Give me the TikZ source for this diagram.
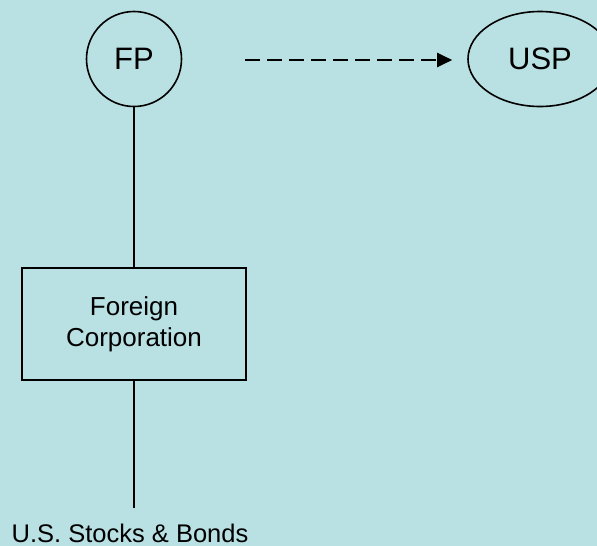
\documentclass[tikz,border=0pt]{standalone}
\usepackage{fontspec}
\setmainfont{Liberation Sans}
\usetikzlibrary{shapes.geometric,arrows.meta}
\definecolor{bgblue}{RGB}{185,224,227}
\tikzset{
  party/.style={draw=black, line width=1.6pt, inner sep=0pt, font=\fontsize{31}{37}\selectfont},
  entity/.style={draw=black, line width=2.2pt, rectangle, minimum width=224pt, minimum height=112pt,
    align=center, font=\fontsize{26}{31}\selectfont},
  link/.style={draw=black, line width=2.2pt},
  transfer/.style={draw=black, line width=2pt, dash pattern=on 15pt off 7pt,
    -{Triangle[length=15pt,width=14pt]}, shorten >=15pt},
  label/.style={font=\fontsize{25.5}{30}\selectfont, inner sep=0pt}
}
\begin{document}
\begin{tikzpicture}[x=1pt,y=-1pt]
  \fill[bgblue] (0,0) rectangle (597,546);
  \useasboundingbox (0,0) rectangle (597,546);

  \node[party, circle, minimum size=95pt] (fp) at (134,59) {FP};
  \node[party, ellipse, minimum width=144pt, minimum height=95pt] (usp) at (540,59) {USP};
  \node[entity] (fc) at (134,324) {Foreign\\Corporation};
  \coordinate (assets) at (134,508);
  \node[label, anchor=base] (stocks) at (130,542) {U.S. Stocks \& Bonds};
  \coordinate (arrstart) at (245,60);

  \draw[link] (fp.south) -- (fc.north);
  \draw[link] (fc.south) -- (assets);
  \draw[transfer] (arrstart) -- (usp.west |- arrstart);
\end{tikzpicture}
\end{document}
